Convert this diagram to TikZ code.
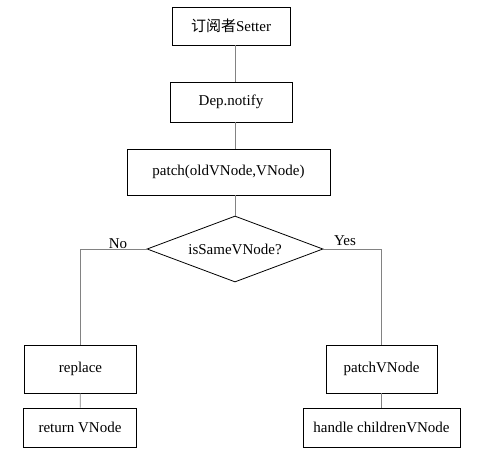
\documentclass[tikz,border=0pt]{standalone}
\usepackage{fontspec}
\setmainfont{Liberation Serif}
\newfontfamily\cjk{Noto Sans CJK SC}
\usetikzlibrary{shapes.geometric}
\definecolor{fc_line}{RGB}{130, 130, 130}
\tikzstyle{bx}=[rectangle,draw=black,line width=0.8 pt,inner sep=2pt,
  font=\fontsize{15}{18}\selectfont]
\tikzstyle{dia}=[diamond,aspect=2.67,draw=black,line width=0.8 pt,inner sep=0pt,
  minimum width=176pt,minimum height=66pt,font=\fontsize{15}{18}\selectfont]
\tikzstyle{lbl}=[inner sep=1pt,font=\fontsize{15}{18}\selectfont]
\tikzstyle{ln}=[draw=fc_line,line width=0.8 pt]
\tikzstyle{none}=[]

\begin{document}
\begin{tikzpicture}[x=1pt,y=-1pt]
            \useasboundingbox (0,0) rectangle (486,456);
            \node [style=bx,minimum width=118pt,minimum height=38pt] (0) at (231, 26) {{\cjk 订阅者}Setter};
            \node [style=bx,minimum width=122pt,minimum height=40pt] (1) at (231, 102) {Dep.notify};
            \node [style=bx,minimum width=203pt,minimum height=46pt] (2) at (228.5, 172) {patch(oldVNode,VNode)};
            \node [style=dia] (3) at (235, 249) {isSameVNode?};
            \node [style=bx,minimum width=112pt,minimum height=48pt] (4) at (80.5, 369) {replace};
            \node [style=bx,minimum width=113pt,minimum height=39pt] (5) at (80, 427.5) {return VNode};
            \node [style=bx,minimum width=111pt,minimum height=48pt] (6) at (381.5, 369) {patchVNode};
            \node [style=bx,minimum width=157pt,minimum height=39pt] (7) at (381.5, 427.5) {handle childrenVNode};
            \node [style=lbl] (8) at (118, 244) {No};
            \node [style=lbl] (9) at (345, 241) {Yes};
            \draw [style=ln] (0.south -| 3.north) to (1.north -| 3.north);
            \draw [style=ln] (1.south -| 3.north) to (2.north -| 3.north);
            \draw [style=ln] (2.south -| 3.north) to (3.north);
            \draw [style=ln] (3.west) -| (4.north);
            \draw [style=ln] (4) to (5);
            \draw [style=ln] (3.east) -| (6.north);
            \draw [style=ln] (6) to (7);
    \end{tikzpicture}
\end{document}
